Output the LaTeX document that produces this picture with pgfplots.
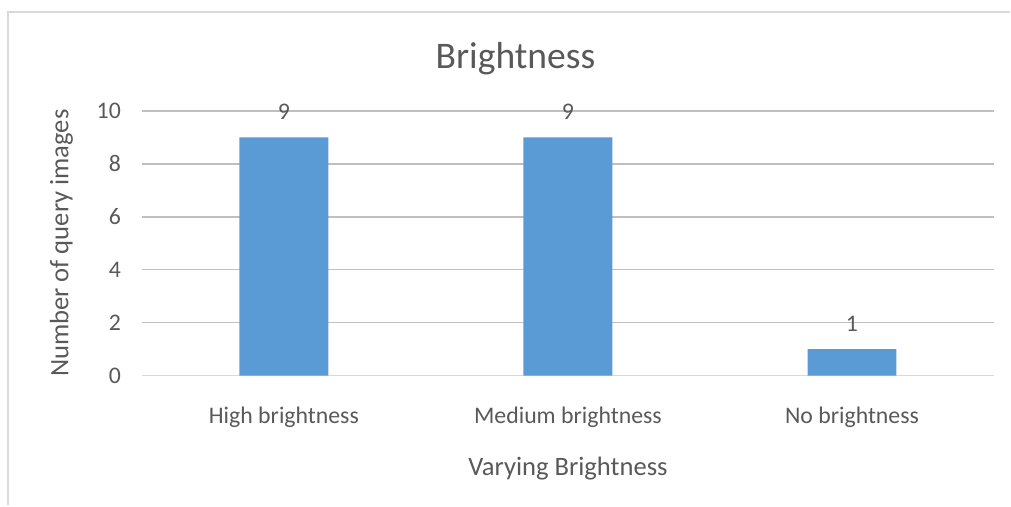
\documentclass[border=0pt]{standalone}
\usepackage{pgfplots}
\pgfplotsset{compat=1.18}
\usepackage{fontspec}
\setmainfont{Carlito}
\definecolor{barblue}{HTML}{5B9BD5}
\definecolor{txt}{HTML}{595959}
\definecolor{grid}{HTML}{D9D9D9}
\begin{document}
\begin{tikzpicture}
\path (0,0) rectangle (505.5pt,253pt);
\draw[grid, line width=1pt] (4pt,0) -- (4pt,247pt) -- (505.5pt,247pt);
\begin{axis}[
  at={(71pt,65pt)}, anchor=south west,
  scale only axis, width=426.5pt, height=132.5pt,
  xmin=-0.5, xmax=2.5, ymin=0, ymax=10,
  ytick={0,2,4,6,8,10},
  xtick={0,1,2},
  xticklabels={High brightness, Medium brightness, No brightness},
  axis line style={draw=none},
  axis x line*=bottom,
  x axis line style={draw=grid, line width=0.75pt},
  major tick length=0pt,
  tick style={draw=none},
  xmajorgrids=false,
  ymajorgrids, grid style={grid, line width=0.75pt},
  tick label style={font=\fontsize{11.9}{13}\selectfont, text=txt},
  /pgf/number format/assume math mode=true,
  yticklabel style={xshift=-7pt},
  xticklabel style={yshift=-12pt},
  xlabel={Varying Brightness},
  ylabel={Number of query images},
  label style={font=\fontsize{13.3}{15}\selectfont, text=txt},
  xlabel style={yshift=-8pt},
  ylabel style={yshift=5pt},
  ybar, bar width=44.5pt,
  nodes near coords,
  nodes near coords style={font=\fontsize{11.9}{13}\selectfont, text=txt, yshift=5.5pt},
]
\addplot[fill=barblue, draw=none] coordinates {(0,9) (1,9) (2,1)};
\end{axis}
\node[font=\fontsize{18.8}{21}\selectfont, text=txt] at (258pt,223.5pt) {Brightness};
\end{tikzpicture}
\end{document}
